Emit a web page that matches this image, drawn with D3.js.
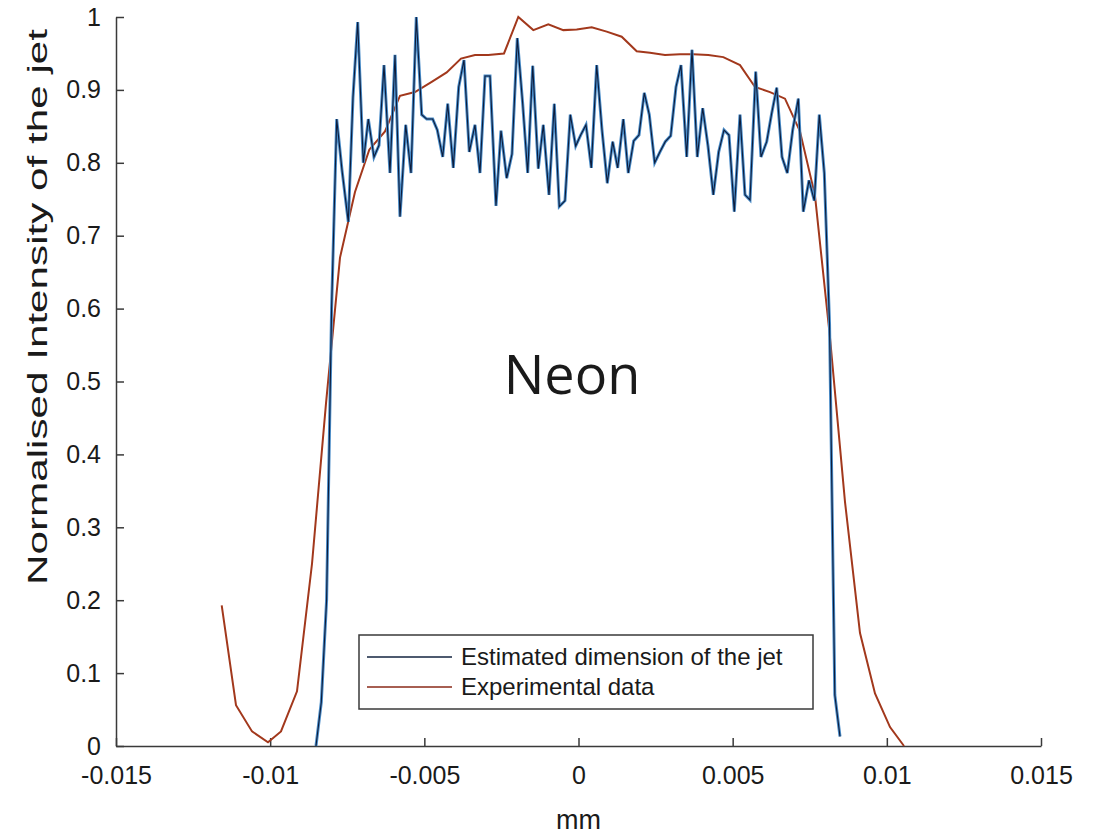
<!DOCTYPE html>
<html>
<head>
<meta charset="utf-8">
<script src="https://cdn.jsdelivr.net/npm/d3@7"></script>
<style>
  body { margin: 0; background: #fff; }
  svg text { font-family: "Liberation Sans", Arial, sans-serif; fill: #1a1a1a; }
</style>
</head>
<body>
<svg id="chart" width="1102" height="835"></svg>
<script>
// estimated jet profile (blue)
var jetX = [-0.008514, -0.008342, -0.008170, -0.008008, -0.007842, -0.007670, -0.007466, -0.007314, -0.007161, -0.006980,
  -0.006817, -0.006633, -0.006470, -0.006308, -0.006114, -0.005951, -0.005789, -0.005604, -0.005432, -0.005261,
  -0.005085, -0.004923, -0.004729, -0.004580, -0.004404, -0.004242, -0.004061, -0.003885, -0.003714, -0.003542,
  -0.003357, -0.003195, -0.003032, -0.002870, -0.002676, -0.002514, -0.002329, -0.002157, -0.001985, -0.001810,
  -0.001648, -0.001485, -0.001304, -0.001142, -0.000957, -0.000785, -0.000623, -0.000438, -0.000266, -0.000091,
  0.000071, 0.000243, 0.000415, 0.000590, 0.000762, 0.000934, 0.001109, 0.001271, 0.001453, 0.001615,
  0.001790, 0.001962, 0.002134, 0.002296, 0.002471, 0.002643, 0.002815, 0.002990, 0.003162, 0.003324,
  0.003509, 0.003681, 0.003853, 0.004028, 0.004200, 0.004372, 0.004547, 0.004719, 0.004881, 0.005053,
  0.005238, 0.005400, 0.005562, 0.005747, 0.005919, 0.006104, 0.006266, 0.006428, 0.006600, 0.006772,
  0.006947, 0.007129, 0.007291, 0.007476, 0.007648, 0.007810, 0.007972, 0.008141, 0.008313, 0.008481];
var jetY = [0.00, 0.06, 0.20, 0.60, 0.86, 0.79, 0.719, 0.89, 0.993, 0.80,
  0.86, 0.808, 0.824, 0.934, 0.786, 0.948, 0.726, 0.852, 0.786, 1.0,
  0.866, 0.86, 0.86, 0.845, 0.808, 0.881, 0.793, 0.904, 0.941, 0.815,
  0.852, 0.786, 0.919, 0.919, 0.741, 0.844, 0.779, 0.812, 0.971, 0.881,
  0.786, 0.933, 0.792, 0.852, 0.756, 0.881, 0.740, 0.748, 0.866, 0.823,
  0.838, 0.852, 0.793, 0.934, 0.845, 0.772, 0.829, 0.793, 0.860, 0.786,
  0.830, 0.838, 0.896, 0.866, 0.800, 0.815, 0.829, 0.837, 0.904, 0.934,
  0.808, 0.955, 0.808, 0.875, 0.823, 0.756, 0.815, 0.845, 0.838, 0.733,
  0.866, 0.756, 0.749, 0.925, 0.808, 0.829, 0.868, 0.903, 0.808, 0.786,
  0.845, 0.888, 0.733, 0.776, 0.748, 0.866, 0.786, 0.58, 0.07, 0.013];

// experimental data (red)
var expX = [-0.011572, -0.011108, -0.010589, -0.010070, -0.009649, -0.009130, -0.008643, -0.008189, -0.007735, -0.007249,
  -0.006785, -0.006276, -0.005789, -0.005303, -0.004761, -0.004275, -0.003811, -0.003357, -0.002925, -0.002416,
  -0.001952, -0.001466, -0.000979, -0.000493, -0.000058, 0.000428, 0.000915, 0.001401, 0.001888, 0.002319,
  0.002805, 0.003292, 0.003723, 0.004210, 0.004696, 0.005238, 0.005724, 0.006211, 0.006697, 0.007184,
  0.007670, 0.008157, 0.008643, 0.009130, 0.009616, 0.010103, 0.010557];
var expY = [0.193, 0.056, 0.020, 0.005, 0.020, 0.075, 0.25, 0.47, 0.67, 0.760,
  0.818, 0.843, 0.892, 0.897, 0.911, 0.924, 0.943, 0.948, 0.948, 0.950,
  1.000, 0.982, 0.990, 0.982, 0.983, 0.986, 0.980, 0.973, 0.953, 0.951,
  0.948, 0.949, 0.949, 0.948, 0.945, 0.934, 0.904, 0.897, 0.888, 0.843,
  0.755, 0.56, 0.335, 0.155, 0.072, 0.026, 0.0];

var xTicks = [-0.015, -0.01, -0.005, 0, 0.005, 0.01, 0.015];
var yTicks = [0, 0.1, 0.2, 0.3, 0.4, 0.5, 0.6, 0.7, 0.8, 0.9, 1];
var legendLabels = ["Estimated dimension of the jet", "Experimental data"];

var margin = { top: 17, right: 61, bottom: 89, left: 116 },
    width = 1102 - margin.left - margin.right,
    height = 835 - margin.top - margin.bottom;

var svg = d3.select('svg#chart');
var g = svg.append('g')
    .attr('transform', 'translate(' + margin.left + ',' + margin.top + ')');

var x = d3.scaleLinear().domain([-0.015, 0.015]).range([0, width]);
var y = d3.scaleLinear().domain([0, 1]).range([height, 0]);

var fmt = d => String(+d.toFixed(3));

var xAxis = g.append('g')
    .attr('transform', 'translate(0,' + height + ')')
    .call(d3.axisBottom(x).tickValues(xTicks).tickFormat(fmt).tickSizeInner(-8).tickSizeOuter(0).tickPadding(15));
var yAxis = g.append('g')
    .call(d3.axisLeft(y).tickValues(yTicks).tickFormat(fmt).tickSizeInner(-8).tickSizeOuter(0).tickPadding(15));

[xAxis, yAxis].forEach(function (a) {
    a.select('.domain').attr('stroke', '#3a3a3a').attr('stroke-width', 1.5);
    a.selectAll('.tick line').attr('stroke', '#3a3a3a').attr('stroke-width', 1.5);
    a.selectAll('.tick text').attr('font-size', 25).attr('fill', '#1a1a1a')
        .style('font-family', '"Liberation Sans", Arial, sans-serif');
});
xAxis.selectAll('.tick text').attr('dy', '0.9em');

var line = d3.line().x(d => x(d[0])).y(d => y(d[1]));
var jet = d3.zip(jetX, jetY);
var exp = d3.zip(expX, expY);

g.append('path').datum(exp)
    .attr('d', line).attr('fill', 'none')
    .attr('stroke', '#a2381c').attr('stroke-width', 2);

g.append('path').datum(jet)
    .attr('d', line).attr('fill', 'none')
    .attr('stroke', '#4a8cc8').attr('stroke-width', 3);
g.append('path').datum(jet)
    .attr('d', line).attr('fill', 'none')
    .attr('stroke', '#0c1c3c').attr('stroke-width', 1.1);

// legend
var leg = svg.append('g').attr('transform', 'translate(359,635)');
leg.append('rect')
    .attr('width', 454).attr('height', 74)
    .attr('fill', '#fff').attr('stroke', '#3a3a3a').attr('stroke-width', 1.5);
var legColors = ['#13233f', '#8a2a18'];
legendLabels.forEach(function (t, i) {
    var row = leg.append('g').attr('transform', 'translate(0,' + (22 + i * 30) + ')');
    row.append('line').attr('x1', 8).attr('x2', 93)
        .attr('stroke', legColors[i]).attr('stroke-width', 1.3);
    row.append('text').attr('x', 102).attr('dy', '0.35em')
        .attr('font-size', 24).text(t);
});

// titles
svg.append('text')
    .attr('x', margin.left + width / 2).attr('y', 829)
    .attr('text-anchor', 'middle').attr('font-size', 27).text('mm');

svg.append('text')
    .attr('transform', 'translate(47,307) rotate(-90)')
    .attr('text-anchor', 'middle').attr('font-size', 27)
    .attr('textLength', 556).attr('lengthAdjust', 'spacingAndGlyphs')
    .text('Normalised Intensity of the jet');

svg.append('text')
    .attr('x', 572).attr('y', 394)
    .attr('text-anchor', 'middle').attr('font-size', 54)
    .style('font-family', '"Open Sans", "Noto Sans", sans-serif')
    .text('Neon');
</script>
</body>
</html>
